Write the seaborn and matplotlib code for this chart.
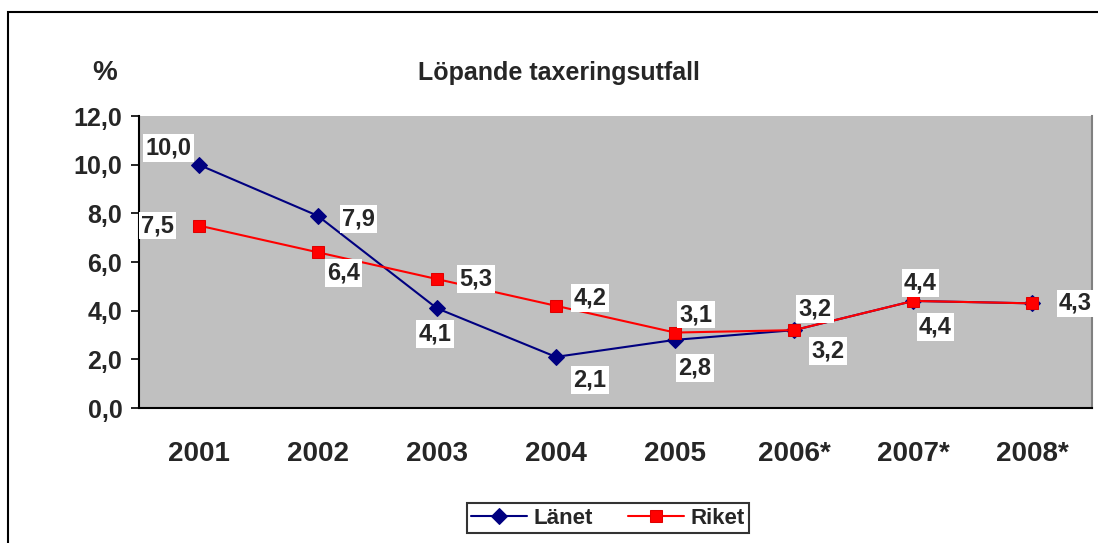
import numpy as np
import pandas as pd
import matplotlib
matplotlib.use("Agg")
import matplotlib.pyplot as plt
import seaborn as sns
from matplotlib.patches import Rectangle

years = ["2001", "2002", "2003", "2004", "2005", "2006*", "2007*", "2008*"]
lanet = [10.0, 7.9, 4.1, 2.1, 2.8, 3.2, 4.4, 4.3]
riket = [7.5, 6.4, 5.3, 4.2, 3.1, 3.2, 4.4, 4.3]

# label offsets in pixels (dx, dy)
lanet_off = [(-30, 17), (41, -3), (-2, -26), (34, -23), (20, -28), (34, -21), (22, -26), (43, 0)]
riket_off = [(-41, 0), (26, -21), (39, 0), (34, 8), (21, 18), (21, 21), (7, 18), None]

sns.set_style("white")
plt.rcParams["font.family"] = ["Liberation Sans", "DejaVu Sans"]
plt.rcParams["font.weight"] = "bold"

fig = plt.figure(figsize=(10.98, 5.43), dpi=100)
ax = fig.add_axes([139 / 1098, 1 - 408 / 543, (1092 - 139) / 1098, (408 - 116) / 543])
ax.set_facecolor("#C0C0C0")

df = pd.DataFrame({"x": range(len(years)), "Länet": lanet, "Riket": riket})
sns.lineplot(data=df, x="x", y="Länet", ax=ax, color="#000080", lw=1.5,
             marker="D", markersize=8, markeredgecolor="#000080", label="Länet")
sns.lineplot(data=df, x="x", y="Riket", ax=ax, color="#FF0000", lw=1.5,
             marker="s", markersize=9, markeredgecolor="#E00000", label="Riket")

def fmt(v):
    return f"{v:.1f}".replace(".", ",")

box = dict(boxstyle="square,pad=0.1", fc="white", ec="none")
for vals, offs in [(riket, riket_off), (lanet, lanet_off)]:
    for i, (v, o) in enumerate(zip(vals, offs)):
        if o is None:
            continue
        ax.annotate(fmt(v), (i, v), xytext=o, textcoords="offset pixels",
                    ha="center", va="center", fontsize=17, fontweight="bold", bbox=box)

ax.set_xlim(-0.5, 7.5)
ax.set_ylim(0, 12)
ax.set_yticks(np.arange(0, 12.1, 2))
ax.set_yticklabels([fmt(v) for v in np.arange(0, 12.1, 2)], fontsize=18, fontweight="bold")
ax.set_xticks(range(len(years)))
ax.set_xticklabels(years, fontsize=20, fontweight="bold")
ax.set_xticks(np.arange(-0.5, 7.6, 1), minor=True)
ax.tick_params(axis="x", which="major", length=0, pad=24)
ax.tick_params(axis="x", which="minor", length=7, width=1.2, color="black", direction="out")
ax.tick_params(axis="y", length=6, width=1.2, color="black", direction="out", left=True, pad=6)
ax.set_xlabel("")
ax.set_ylabel("")

for s in ["left", "bottom"]:
    ax.spines[s].set_color("black")
    ax.spines[s].set_linewidth(1.5)
ax.spines["top"].set_visible(False)
ax.spines["right"].set_color("#808080")
ax.spines["right"].set_linewidth(1.5)

fig.text(559 / 1098, 1 - 73 / 543, "Löpande taxeringsutfall", ha="center", va="center",
         fontsize=18, fontweight="bold")
fig.text(105 / 1098, 1 - 73 / 543, "%", ha="center", va="center", fontsize=20, fontweight="bold")

leg = ax.legend(loc="center", bbox_to_anchor=(608 / 1098, 1 - 518 / 543),
                bbox_transform=fig.transFigure, ncol=2, fontsize=16, frameon=True,
                fancybox=False, edgecolor="black", handlelength=2.5, columnspacing=1.6,
                borderpad=0.2, handletextpad=0.3)
leg.get_frame().set_linewidth(1.5)
for t in leg.get_texts():
    t.set_fontweight("bold")

fig.patches.append(Rectangle((8 / 1098, -0.1), 1.2, 1 - 12 / 543 + 0.1, transform=fig.transFigure,
                             fill=False, ec="black", lw=1.5, clip_on=False))

fig.savefig("out.png", dpi=100)
